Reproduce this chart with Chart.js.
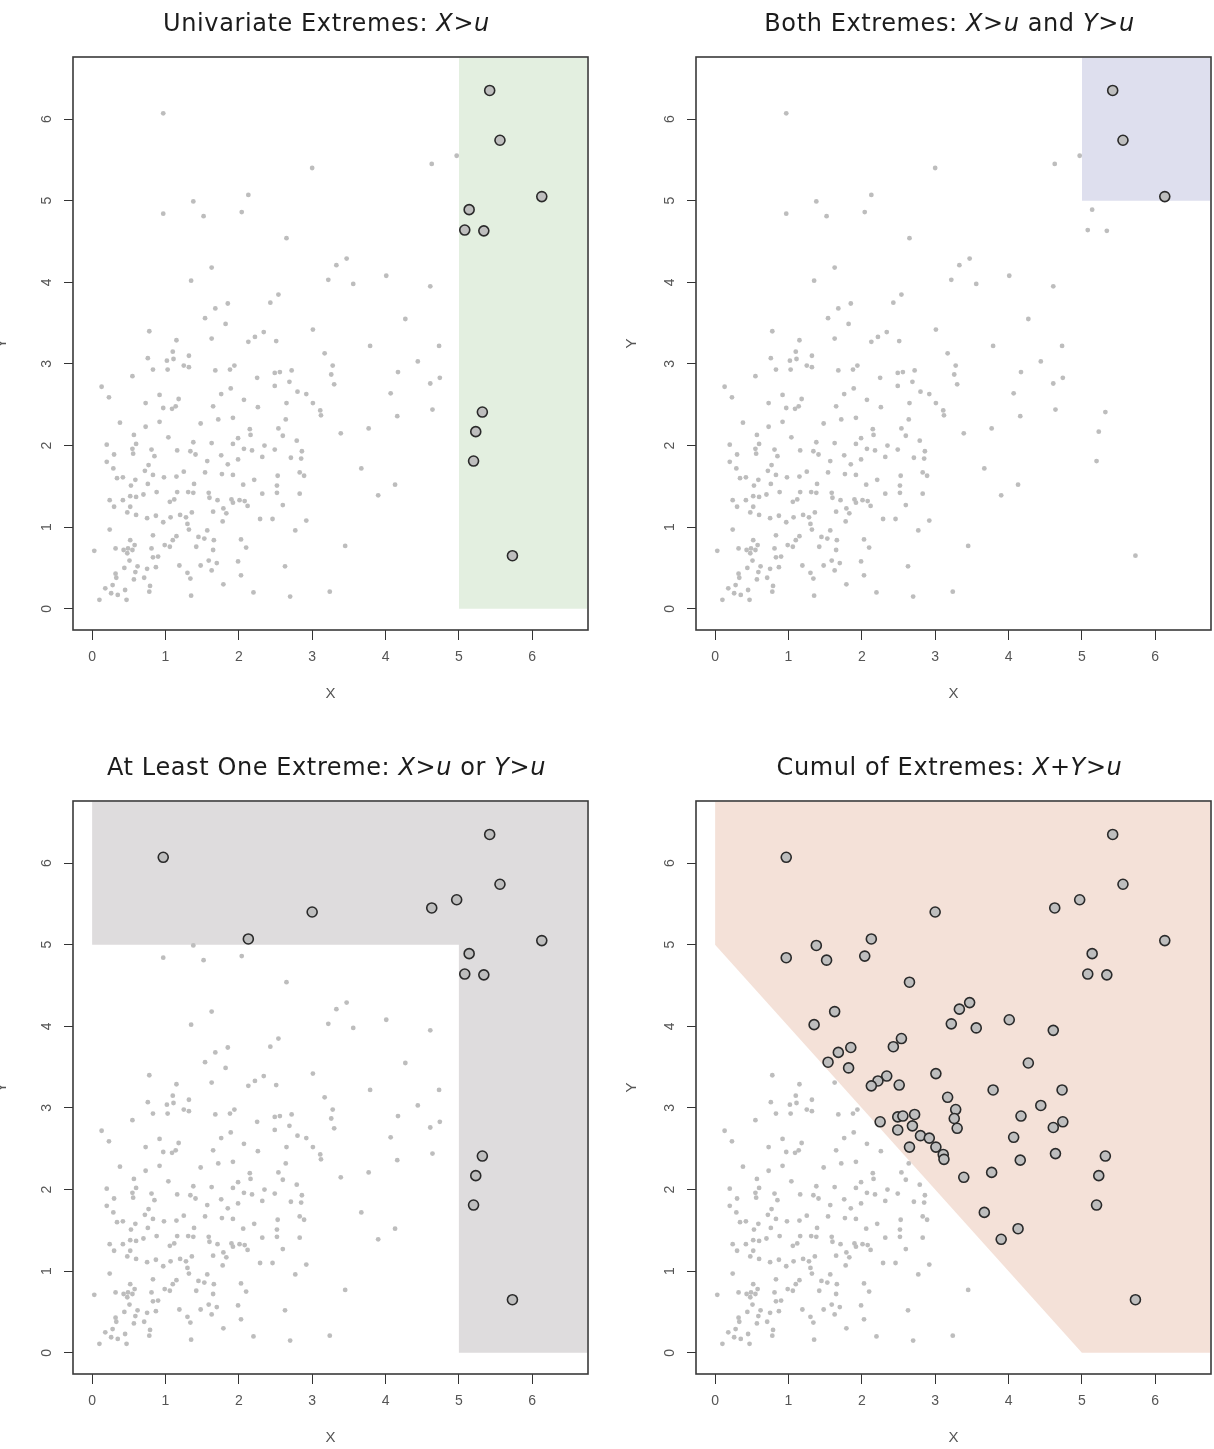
<!DOCTYPE html>
<html><head><meta charset="utf-8">
<script src="https://cdn.jsdelivr.net/npm/chart.js@4.4.0/dist/chart.umd.min.js"></script>
<style>
html,body{margin:0;padding:0;background:#fff;}
body{width:1214px;height:1449px;position:relative;overflow:hidden;}
canvas{position:absolute;}
</style></head><body>
<canvas id="c0" width="591" height="705" style="left:0;top:0"></canvas>
<canvas id="c1" width="591" height="705" style="left:623px;top:0"></canvas>
<canvas id="c2" width="591" height="705" style="left:0;top:744px"></canvas>
<canvas id="c3" width="591" height="705" style="left:623px;top:744px"></canvas>
<script>
// ---- data ----
const U = 5;                       // threshold u
const tickVals = [0, 1, 2, 3, 4, 5, 6];
const axisMin = -0.26, axisMax = 6.76, regionEdge = 6.75;

const ptX = [
 0.97,5.42,5.56,4.63,4.97,3.00,6.13,1.38,2.13,0.97,1.52,2.04,5.14,5.08,5.34,2.65,3.47,3.33,1.63,1.35,
 3.22,3.56,4.01,4.61,2.54,2.43,1.85,1.68,1.54,1.82,4.27,3.01,2.34,2.22,2.13,2.51,3.79,4.73,3.17,4.44,
 3.28,3.26,3.30,4.17,2.25,2.49,2.56,2.72,2.49,2.69,2.80,2.92,3.01,3.11,3.12,2.65,4.74,4.61,4.07,4.64,
 4.16,5.32,5.23,3.39,3.77,5.20,3.67,4.13,3.90,5.73,
 0.78,1.15,1.63,1.10,1.32,0.76,1.02,1.11,0.83,1.03,1.25,1.32,1.68,1.88,1.94,0.55,0.13,0.23,1.89,1.76,
 2.07,0.92,1.18,0.73,0.97,1.09,1.14,1.65,2.26,0.38,0.92,1.48,1.72,1.92,2.64,2.54,2.60,0.73,1.04,0.57,
 0.60,0.20,0.55,0.56,0.81,0.85,0.30,0.20,0.29,1.16,1.34,1.41,1.38,1.63,1.92,1.99,2.15,2.16,2.07,2.18,
 2.35,2.49,2.79,2.86,2.71,2.85,1.76,1.57,1.85,1.99,2.32,0.77,0.72,0.83,0.98,1.15,1.25,1.54,1.77,1.92,
 2.21,2.53,2.83,2.89,0.34,0.42,0.59,0.76,0.53,1.39,2.06,2.52,2.52,0.52,0.60,0.70,0.88,1.16,1.31,1.38,
 1.59,1.60,2.32,2.83,0.24,0.42,0.30,0.52,1.06,1.12,1.71,1.90,2.01,2.08,1.92,2.12,2.60,1.79,1.83,1.65,
 0.48,0.60,0.75,0.87,0.97,1.07,1.20,1.28,1.36,1.30,1.32,1.78,2.29,2.46,2.92,2.77,0.24,1.57,0.83,1.15,
 1.10,0.99,1.06,1.45,1.53,1.66,1.42,1.65,2.03,2.10,0.03,0.32,0.52,0.58,0.43,0.49,0.55,0.48,0.81,0.83,
 0.90,0.51,1.59,1.48,1.70,1.19,1.99,2.63,0.44,0.62,0.75,0.87,1.63,0.32,0.33,0.59,0.57,0.71,1.30,1.34,
 2.03,0.18,0.28,0.79,0.78,0.26,0.35,0.45,1.79,0.10,0.47,1.35,2.20,2.70,3.24,3.45
];
const ptY = [
 6.07,6.35,5.74,5.45,5.55,5.40,5.05,4.99,5.07,4.84,4.81,4.86,4.89,4.64,4.63,4.54,4.29,4.21,4.18,4.02,
 4.03,3.98,4.08,3.95,3.85,3.75,3.74,3.68,3.56,3.49,3.55,3.42,3.39,3.33,3.27,3.28,3.22,3.22,3.13,3.03,
 2.98,2.87,2.75,2.90,2.83,2.89,2.90,2.92,2.73,2.78,2.66,2.63,2.52,2.43,2.37,2.52,2.83,2.76,2.64,2.44,
 2.36,2.41,2.17,2.15,2.21,1.81,1.72,1.52,1.39,0.65,
 3.40,3.29,3.31,3.15,3.10,3.07,3.04,3.06,2.93,2.93,2.98,2.96,2.92,2.93,2.98,2.85,2.72,2.59,2.70,2.63,
 2.56,2.62,2.57,2.52,2.46,2.45,2.48,2.48,2.47,2.28,2.29,2.27,2.32,2.34,2.32,2.21,2.12,2.23,2.10,2.13,
 2.02,2.01,1.96,1.90,1.95,1.87,1.89,1.80,1.72,1.94,1.93,1.89,2.04,2.03,2.02,2.09,2.20,2.13,1.96,1.94,
 2.00,1.95,2.06,1.93,1.85,1.84,1.88,1.81,1.77,1.83,1.86,1.76,1.69,1.64,1.61,1.62,1.68,1.67,1.65,1.64,
 1.58,1.63,1.67,1.63,1.60,1.61,1.58,1.53,1.51,1.53,1.52,1.51,1.42,1.38,1.37,1.40,1.43,1.43,1.43,1.42,
 1.42,1.36,1.41,1.41,1.33,1.33,1.25,1.25,1.31,1.34,1.33,1.34,1.33,1.32,1.30,1.26,1.27,1.23,1.17,1.19,
 1.18,1.15,1.11,1.14,1.06,1.12,1.15,1.12,1.18,1.04,0.97,1.07,1.10,1.10,1.08,0.96,0.97,0.96,0.90,0.89,
 0.84,0.78,0.76,0.88,0.86,0.84,0.76,0.72,0.85,0.75,0.71,0.74,0.84,0.78,0.72,0.74,0.72,0.68,0.74,0.63,
 0.64,0.59,0.59,0.53,0.56,0.53,0.58,0.52,0.50,0.52,0.49,0.51,0.47,0.43,0.38,0.45,0.36,0.38,0.44,0.37,
 0.41,0.25,0.29,0.28,0.21,0.19,0.17,0.23,0.30,0.11,0.11,0.16,0.20,0.15,0.21,0.77
];

// region boundaries (the shaded area lies above these lines)
const region1 = [[U, 0], [regionEdge, 0]];
const region2 = [[U, U], [regionEdge, U]];
const region3 = [[0, U], [U, U], [U, 0], [regionEdge, 0]];
const region4 = [[0, U], [U, 0], [regionEdge, 0]];

const panels = [
  {id:'c0', title:[['Univariate Extremes: ',0],['X>u',1]], region:region1,
   color:'#e3efe0', yTitlePad:-7, rule:(x,y)=>x>U},
  {id:'c1', title:[['Both Extremes: ',0],['X>u',1],[' and ',0],['Y>u',1]], region:region2,
   color:'#dedfee', yTitlePad:0, rule:(x,y)=>x>U&&y>U},
  {id:'c2', title:[['At Least One Extreme: ',0],['X>u',1],[' or ',0],['Y>u',1]], region:region3,
   color:'#dedcdd', yTitlePad:-7, rule:(x,y)=>x>U||y>U},
  {id:'c3', title:[['Cumul of Extremes: ',0],['X+Y>u',1]], region:region4,
   color:'#f4e1d8', yTitlePad:0, rule:(x,y)=>x+y>U}
];

// ---- plugins ----
const frame = {
  id:'frame',
  afterDraw(chart){
    const {ctx, chartArea:a} = chart;
    ctx.save(); ctx.strokeStyle='#3a3a3a'; ctx.lineWidth=1.6;
    ctx.strokeRect(a.left, a.top, a.right-a.left, a.bottom-a.top);
    ctx.restore();
  }
};
const mixedTitle = {
  id:'mixedTitle',
  afterDraw(chart, args, opts){
    const ctx = chart.ctx, a = chart.chartArea;
    const fam = '"DejaVu Sans", sans-serif';
    const fonts = ['400 24px '+fam, 'italic 400 24px '+fam];
    ctx.save();
    ctx.letterSpacing = '0.6px';
    let total = 0;
    opts.parts.forEach(p=>{ctx.font=fonts[p[1]]; total += ctx.measureText(p[0]).width;});
    let x = (a.left+a.right)/2 - total/2 - 4;
    ctx.fillStyle='#1c1c1c'; ctx.textBaseline='alphabetic'; ctx.textAlign='left';
    opts.parts.forEach(p=>{ctx.font=fonts[p[1]]; ctx.fillText(p[0], x, 31); x += ctx.measureText(p[0]).width;});
    ctx.restore();
  }
};

const noPad = () => ({left:0, top:0, right:0, bottom:0});
const tickFont = {family:'"Liberation Sans", Arial, sans-serif', size:14};
function axis(isX, pnl){
  return {
    type:'linear', min:axisMin, max:axisMax,
    afterBuildTicks:s=>{ s.ticks = tickVals.map(v=>({value:v})); },
    afterFit:s=>{
      if(isX){ s.height = 75; } else { s.width = 73; }
      s.paddingTop = 0; s.paddingBottom = 0; s.paddingLeft = 0; s.paddingRight = 0;
      s.getPadding = noPad;
    },
    grid:{drawOnChartArea:false, drawTicks:true, tickLength:isX?10:9, tickColor:'#333', tickWidth:1},
    border:{display:false},
    ticks:isX ? {font:tickFont, color:'#555', padding:9, maxRotation:0, minRotation:0, callback:v=>String(v)}
              : {font:tickFont, color:'#555', padding:13, minRotation:90, maxRotation:90, crossAlign:'center', callback:v=>String(v)},
    title:{display:true, text:isX?'X':'Y', color:'#555', font:{family:tickFont.family, size:15},
           padding:isX?{top:0,bottom:2}:{top:pnl.yTitlePad,bottom:0}}
  };
}

panels.forEach(pnl=>{
  const hi=[], lo=[];
  ptX.forEach((x,i)=>{ const y=ptY[i]; (pnl.rule(x,y)?hi:lo).push({x,y}); });
  new Chart(document.getElementById(pnl.id), {
    type:'scatter',
    data:{datasets:[
      {type:'line', data:pnl.region.map(p=>({x:p[0],y:p[1]})),
       fill:{value:regionEdge}, backgroundColor:pnl.color, borderWidth:0, pointRadius:0, order:2},
      {data:lo, pointRadius:2.4, backgroundColor:'#bdbdbd', borderWidth:0, order:1},
      {data:hi, pointRadius:5, backgroundColor:'#bebebe', borderColor:'#2a2a2a', borderWidth:1.6, order:0}
    ]},
    options:{
      responsive:false, animation:false, devicePixelRatio:1,
      layout:{autoPadding:false, padding:{top:57, right:3, left:0, bottom:0}},
      scales:{x:axis(true,pnl), y:axis(false,pnl)},
      plugins:{legend:{display:false}, tooltip:{enabled:false}, mixedTitle:{parts:pnl.title}}
    },
    plugins:[frame, mixedTitle]
  });
});
</script>
</body></html>
